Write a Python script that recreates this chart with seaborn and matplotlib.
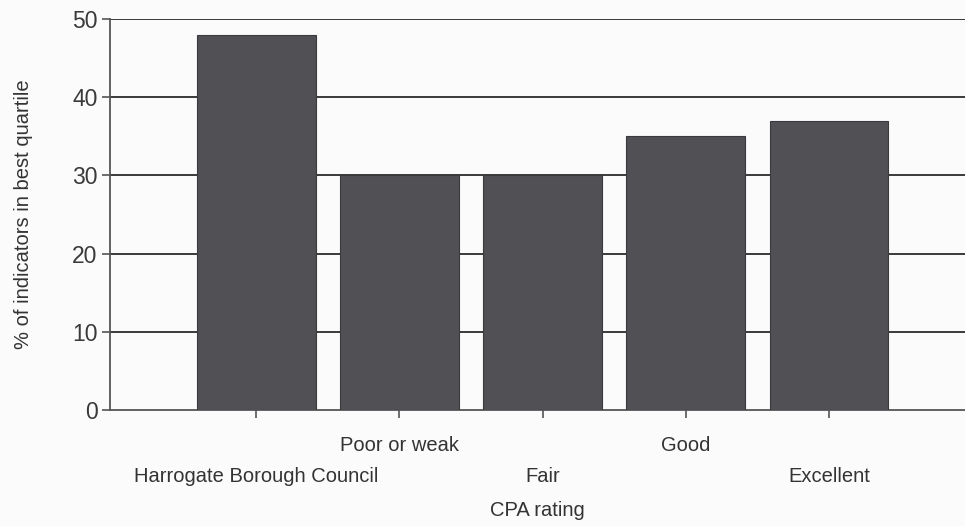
import matplotlib
matplotlib.use("Agg")
import matplotlib.pyplot as plt
import seaborn as sns
import pandas as pd

categories = ["Harrogate Borough Council", "Poor or weak", "Fair", "Good", "Excellent"]
values = [48, 30, 30, 35, 37]
y_ticks = [0, 10, 20, 30, 40, 50]

sns.set_theme(style="white")
plt.rcParams['font.family'] = ['Liberation Sans', 'DejaVu Sans']

df = pd.DataFrame({"cat": categories, "val": values})

fig = plt.figure(figsize=(9.65, 5.26), dpi=100)
fig.patch.set_facecolor("#fbfbfb")
ax = fig.add_axes([0.114, 0.2205, 0.886, 0.7433])
ax.set_facecolor("#fbfbfb")

sns.barplot(data=df, x="cat", y="val", color="#505055", saturation=1,
            width=0.83, edgecolor="#3a3a3e", linewidth=0.8, ax=ax, zorder=3)

ax.set_ylim(0, 50)
ax.set_xlim(-1.02, 4.95)
ax.set_yticks(y_ticks)
ax.set_yticklabels([str(t) for t in y_ticks], fontsize=16.5, color="#3a3a3a")
ax.set_xticks(range(len(categories)))
ax.set_xticklabels(categories, fontsize=14.5, color="#333333")

for t in y_ticks[1:]:
    ax.axhline(t, color="#3a3a3a", linewidth=1.4, zorder=1)

for s in ["top", "right"]:
    ax.spines[s].set_visible(False)
for s in ["left", "bottom"]:
    ax.spines[s].set_color("#555555")
    ax.spines[s].set_linewidth(1.3)

ax.tick_params(axis="y", length=6, width=1.2, color="#555555", pad=3, left=True)
ax.tick_params(axis="x", length=6, width=1.2, color="#555555", bottom=True)
for i, tick in enumerate(ax.xaxis.get_major_ticks()):
    tick.set_pad(13 if i % 2 == 1 else 35)

ax.set_xlabel("CPA rating", fontsize=14.5, color="#333333", labelpad=11)
ax.set_ylabel("% of indicators in best quartile", fontsize=14.5, color="#333333", labelpad=28)

fig.savefig("out.png", dpi=100, facecolor=fig.get_facecolor())
